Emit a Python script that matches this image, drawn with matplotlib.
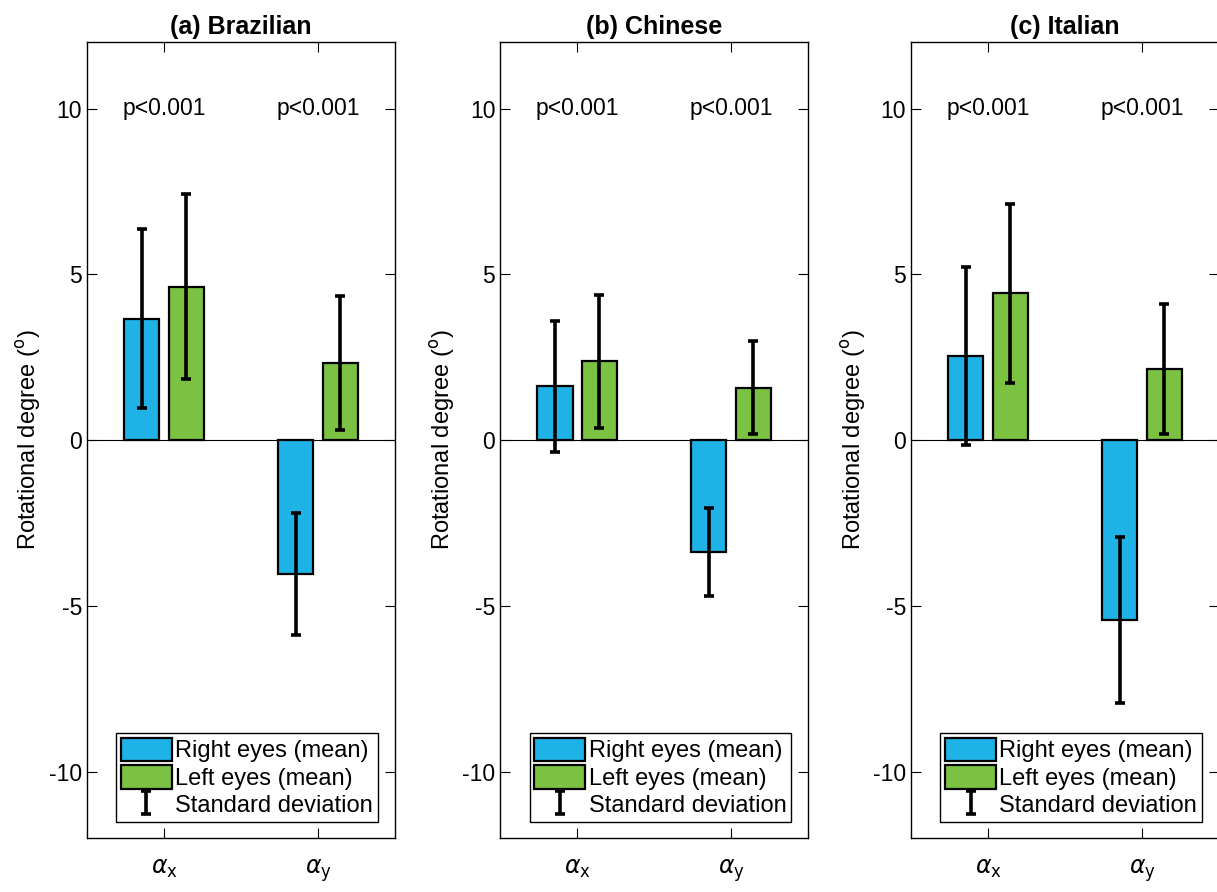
import matplotlib.pyplot as plt
from matplotlib.patches import Patch

plt.rcParams['font.family'] = ['Liberation Sans', 'DejaVu Sans']
plt.rcParams['mathtext.fontset'] = 'dejavusans'
plt.rcParams['axes.unicode_minus'] = False

groups = [r'$\alpha_{\mathrm{x}}$', r'$\alpha_{\mathrm{y}}$']
titles = ['(a) Brazilian', '(b) Chinese', '(c) Italian']
p_labels = ['p<0.001', 'p<0.001']

# mean values (right eyes / left eyes) for alpha_x, alpha_y
right_mean = [[3.67, -4.04], [1.62, -3.38], [2.53, -5.43]]
left_mean = [[4.63, 2.33], [2.38, 1.58], [4.43, 2.15]]
# standard deviations
right_sd = [[2.71, 1.83], [1.99, 1.33], [2.68, 2.51]]
left_sd = [[2.79, 2.02], [2.01, 1.40], [2.70, 1.96]]

blue = '#1fb2e6'
green = '#7cc242'

fig = plt.figure(figsize=(12.17, 8.92), dpi=100)
lefts = [0.0715, 0.411, 0.7486]
x = [1, 2]
off = 0.145
w = 0.23

for i in range(3):
    ax = fig.add_axes([lefts[i], 0.0605, 0.253, 0.892])
    xr = [v - off for v in x]
    xl = [v + off for v in x]
    ax.bar(xr, right_mean[i], w, color=blue, edgecolor='black', linewidth=1.6, zorder=2)
    ax.bar(xl, left_mean[i], w, color=green, edgecolor='black', linewidth=1.6, zorder=2)
    ax.errorbar(xr, right_mean[i], yerr=right_sd[i], fmt='none', ecolor='black',
                elinewidth=2.6, capsize=3.5, capthick=2.6, zorder=3)
    eb = ax.errorbar(xl, left_mean[i], yerr=left_sd[i], fmt='none', ecolor='black',
                     elinewidth=2.6, capsize=3.5, capthick=2.6, zorder=3)
    ax.axhline(0, color='black', linewidth=0.8, zorder=1)
    for xi, t in zip(x, p_labels):
        ax.text(xi, 10, t, ha='center', va='center', fontsize=16.5)
    ax.set_xlim(0.5, 2.5)
    ax.set_ylim(-12, 12)
    ax.set_yticks([-10, -5, 0, 5, 10])
    ax.set_xticks(x)
    ax.set_xticklabels(groups, fontsize=17)
    ax.tick_params(axis='y', labelsize=16.5, direction='in', right=True, length=7)
    ax.tick_params(axis='x', direction='in', top=True, length=7, pad=14)
    for s in ax.spines.values():
        s.set_linewidth(1.0)
    ax.set_ylabel('Rotational degree ($^\\mathrm{o}$)', fontsize=17)
    ax.set_title(titles[i], fontsize=18, fontweight='bold', pad=6)
    handles = [Patch(facecolor=blue, edgecolor='black', linewidth=1.6),
               Patch(facecolor=green, edgecolor='black', linewidth=1.6), eb]
    leg = ax.legend(handles, ['Right eyes (mean)', 'Left eyes (mean)', 'Standard deviation'],
                    loc='lower center', bbox_to_anchor=(0.52, 0.02), fontsize=17,
                    fancybox=False, edgecolor='black', framealpha=1,
                    handlelength=2.15, handleheight=1.15, handletextpad=0.15,
                    labelspacing=0.12, borderpad=0.2, borderaxespad=0)
    leg.get_frame().set_linewidth(1.0)

plt.savefig('out.png', dpi=100)
